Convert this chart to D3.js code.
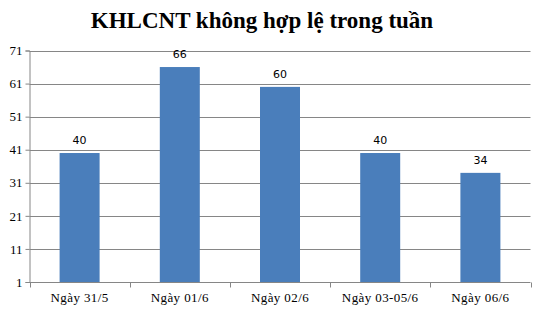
<!DOCTYPE html>
<html>
<head>
<meta charset="utf-8">
<script src="https://cdn.jsdelivr.net/npm/d3@7"></script>
<style>
  body { margin: 0; background: #fff; }
  svg { display: block; }
</style>
</head>
<body>
<div id="chart"></div>
<script>
  var categories = ['Ngày 31/5', 'Ngày 01/6', 'Ngày 02/6', 'Ngày 03-05/6', 'Ngày 06/6'];
  var values = [40, 66, 60, 40, 34];
  var yTicks = [1, 11, 21, 31, 41, 51, 61, 71];
  var title = 'KHLCNT không hợp lệ trong tuần';

  var width = 540, height = 310;
  var margin = { top: 50.5, right: 10, bottom: 28, left: 29.5 };

  var svg = d3.select('#chart')
    .append('svg')
    .attr('width', width)
    .attr('height', height);

  var x = d3.scaleBand()
    .domain(categories)
    .range([margin.left, width - margin.right + 0.5])
    .paddingInner(0)
    .paddingOuter(0);

  var y = d3.scaleLinear()
    .domain([1, 71])
    .range([height - margin.bottom, margin.top]);

  // title
  svg.append('text')
    .attr('x', 262)
    .attr('y', 28)
    .attr('text-anchor', 'middle')
    .style('font-family', '"Liberation Serif", "Times New Roman", serif')
    .style('font-weight', 'bold')
    .style('font-size', '23px')
    .style('fill', '#000')
    .text(title);

  // gridlines
  svg.append('g')
    .selectAll('line')
    .data(yTicks.slice(1))
    .enter()
    .append('line')
    .attr('x1', margin.left)
    .attr('x2', x.range()[1])
    .attr('y1', function (d) { return Math.round(y(d)) + 0.5; })
    .attr('y2', function (d) { return Math.round(y(d)) + 0.5; })
    .style('stroke', '#868686')
    .style('stroke-width', 1);

  // y axis
  var yAxis = svg.append('g')
    .attr('transform', 'translate(' + margin.left + ',0)')
    .call(d3.axisLeft(y).tickValues(yTicks).tickSize(4).tickPadding(3).tickFormat(d3.format('d')));

  yAxis.select('.domain').style('stroke', '#868686');
  yAxis.selectAll('.tick line').style('stroke', '#868686');
  yAxis.selectAll('.tick text')
    .style('font-family', '"Liberation Serif", "Times New Roman", serif')
    .style('font-size', '13px')
    .style('fill', '#000');

  // bars
  var barWidth = 40;
  svg.append('g')
    .selectAll('rect')
    .data(values)
    .enter()
    .append('rect')
    .attr('x', function (d, i) { return x(categories[i]) + x.bandwidth() / 2 - barWidth / 2; })
    .attr('y', function (d) { return y(d); })
    .attr('width', barWidth)
    .attr('height', function (d) { return y(1) - y(d); })
    .style('fill', '#4a7ebb');

  // value labels
  svg.append('g')
    .selectAll('text')
    .data(values)
    .enter()
    .append('text')
    .attr('x', function (d, i) { return x(categories[i]) + x.bandwidth() / 2; })
    .attr('y', function (d) { return y(d) - 9; })
    .attr('text-anchor', 'middle')
    .style('font-family', '"DejaVu Sans", Verdana, sans-serif')
    .style('font-size', '11px')
    .style('fill', '#000')
    .text(function (d) { return d; });

  // x axis
  var xAxisY = Math.round(y(1)) + 0.5;
  var xAxis = svg.append('g');

  xAxis.append('line')
    .attr('x1', margin.left)
    .attr('x2', x.range()[1])
    .attr('y1', xAxisY)
    .attr('y2', xAxisY)
    .style('stroke', '#868686');

  var boundaries = categories.map(function (c) { return x(c); }).concat([x.range()[1]]);
  xAxis.selectAll('line.tk')
    .data(boundaries)
    .enter()
    .append('line')
    .attr('class', 'tk')
    .attr('x1', function (d) { return Math.round(d) + 0.5; })
    .attr('x2', function (d) { return Math.round(d) + 0.5; })
    .attr('y1', xAxisY)
    .attr('y2', xAxisY + 5)
    .style('stroke', '#868686');

  xAxis.selectAll('text')
    .data(categories)
    .enter()
    .append('text')
    .attr('x', function (d) { return x(d) + x.bandwidth() / 2; })
    .attr('y', 302)
    .attr('text-anchor', 'middle')
    .style('font-family', '"Liberation Serif", "Times New Roman", serif')
    .style('font-size', '13px')
    .style('letter-spacing', '0.4px')
    .style('fill', '#000')
    .text(function (d) { return d; });
</script>
</body>
</html>
